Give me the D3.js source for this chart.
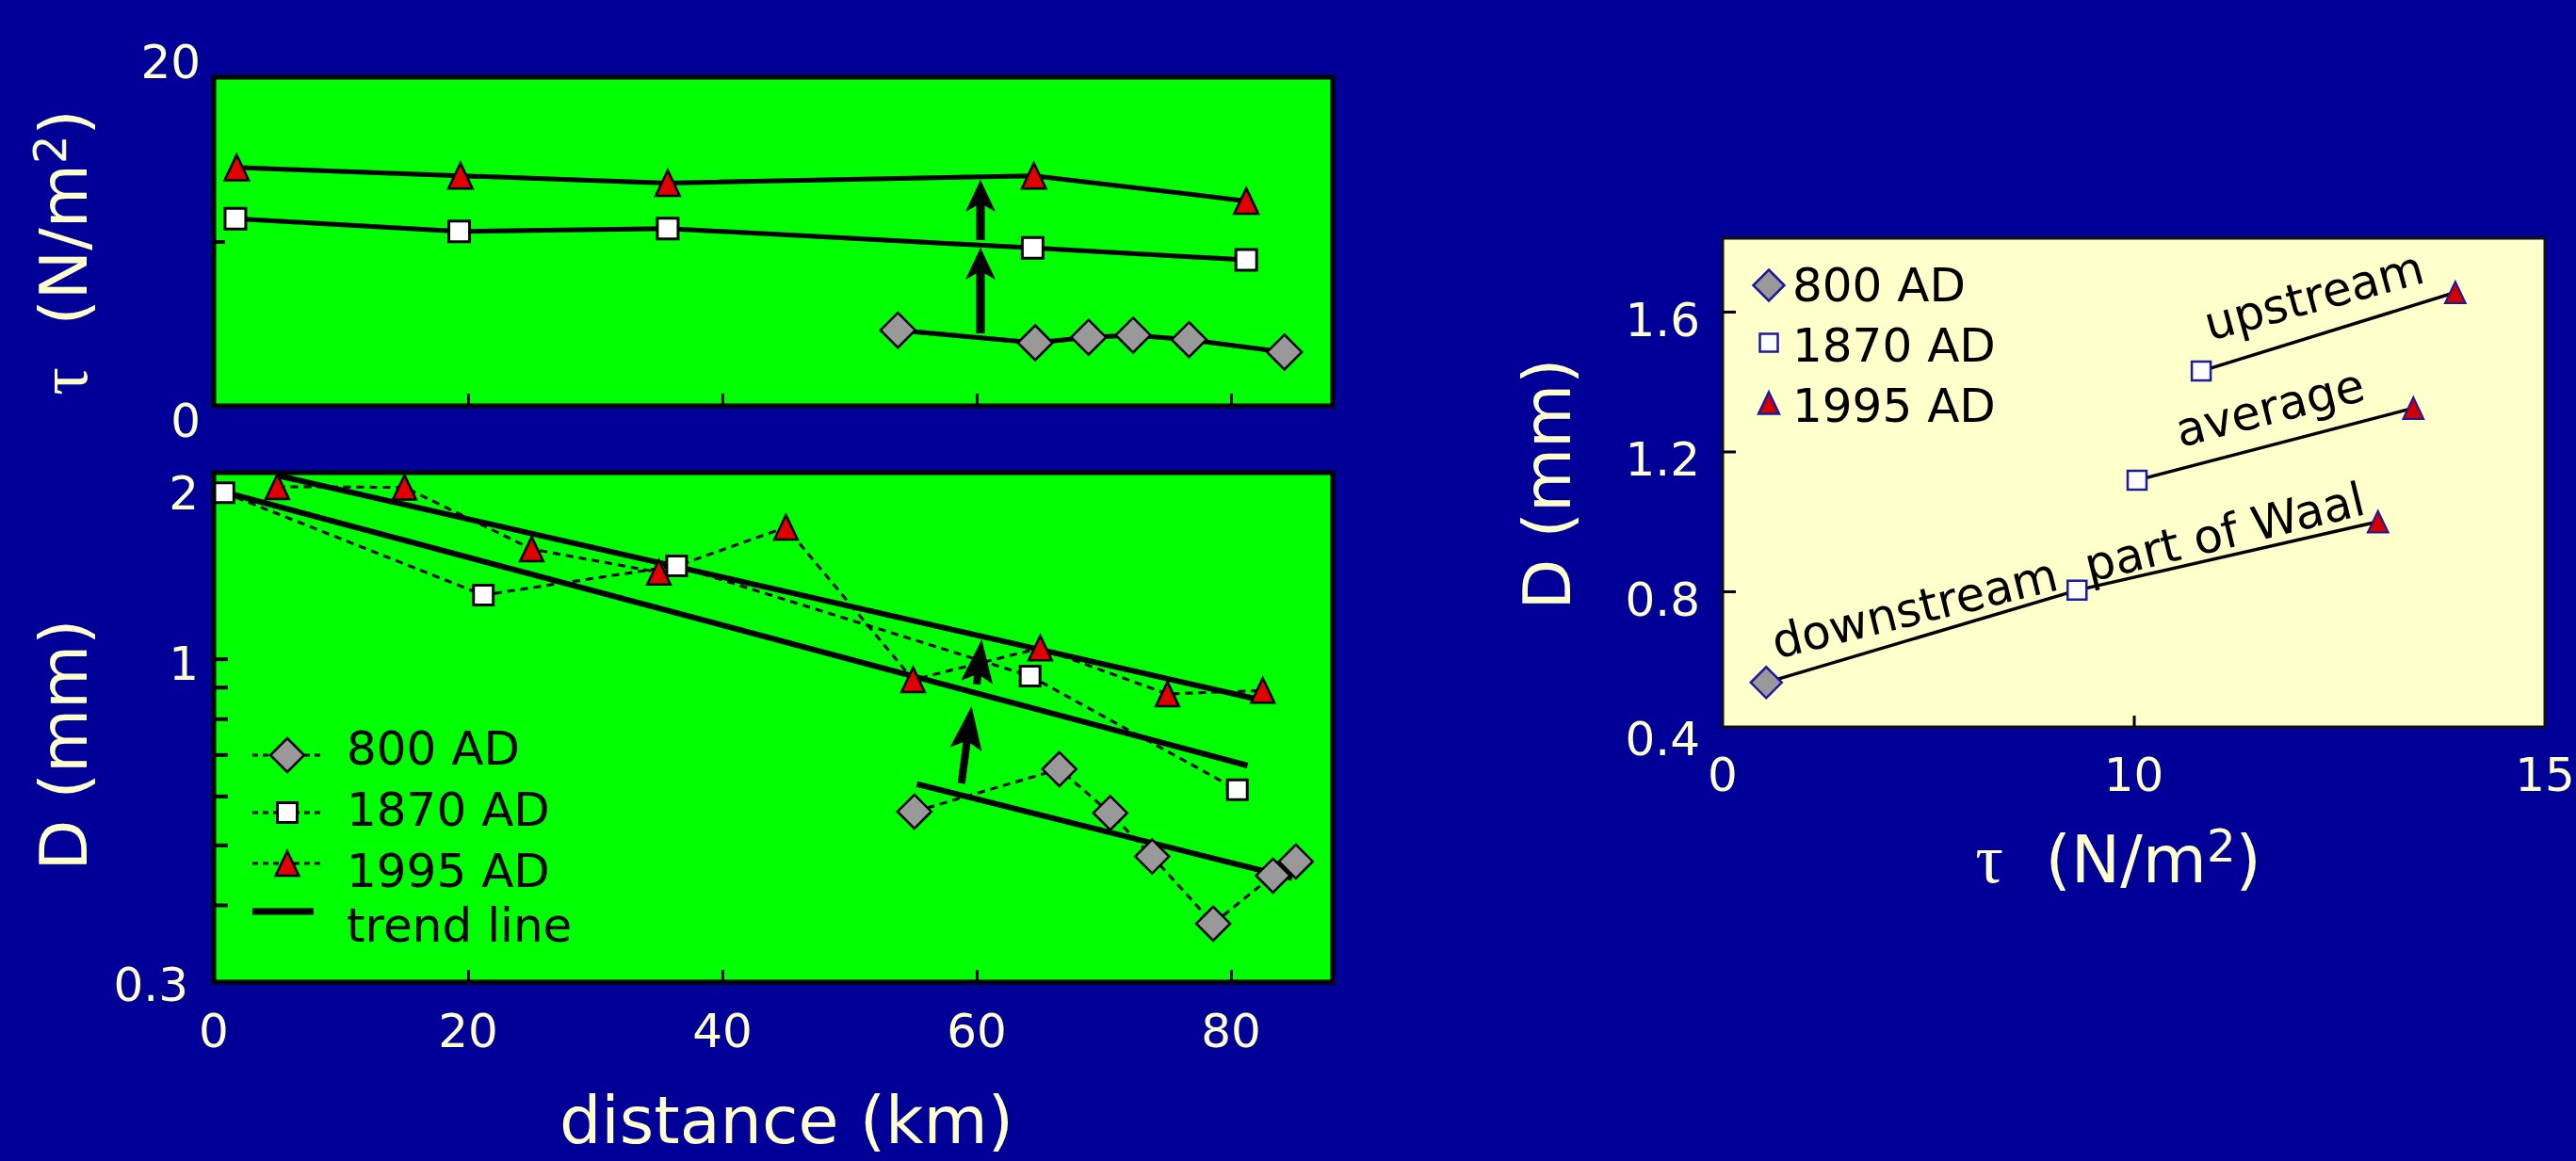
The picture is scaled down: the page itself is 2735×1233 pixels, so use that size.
<!DOCTYPE html>
<html>
<head>
<meta charset="utf-8">
<script src="https://cdn.jsdelivr.net/npm/d3@7"></script>
<style>
  body { margin: 0; background: #000099; }
  svg { display: block; }
</style>
</head>
<body>
<script>
// ---- data ----
var years = ["800 AD", "1870 AD", "1995 AD"];

// top panel: bed shear stress tau (N/m2) against distance (km)
var tauKm800 = [53.8, 64.6, 68.8, 72.3, 76.7, 84.2];
var tau800 = [4.6, 3.84, 4.17, 4.3, 4.03, 3.27];
var tauKm1870 = [1.7, 19.3, 35.7, 64.4, 81.2];
var tau1870 = [11.39, 10.62, 10.79, 9.61, 8.88];
var tauKm1995 = [1.8, 19.4, 35.7, 64.5, 81.2];
var tau1995 = [14.5, 14.0, 13.56, 14.0, 12.47];

// bottom panel: grain size D (mm) against distance (km)
var dKm800 = [55.1, 66.5, 70.5, 73.8, 78.6, 83.3, 85.1];
var d800 = [0.566, 0.663, 0.563, 0.479, 0.373, 0.446, 0.470];
var dKm1870 = [0.8, 21.2, 36.4, 64.2, 80.5];
var d1870 = [1.857, 1.268, 1.414, 0.938, 0.614];
var dKm1995 = [5, 15, 25, 35, 45, 55, 65, 75, 82.5];
var d1995 = [1.898, 1.894, 1.505, 1.380, 1.632, 0.925, 1.041, 0.877, 0.889];

// trend lines: start and end
var trendKm800 = [55.3, 84.8], trendD800 = [0.627, 0.442];
var trendKm1870 = [0.96, 81.3], trendD1870 = [1.857, 0.672];
var trendKm1995 = [5.0, 82.2], trendD1995 = [1.979, 0.859];

// arrows: [km0, v0, km1, v1]
var arrowsTau = [[60.3, 4.41, 60.3, 9.63], [60.3, 10.09, 60.3, 13.75]];
var arrowsD = [[58.8, 0.629, 59.6, 0.838], [60.0, 0.909, 60.4, 1.075]];

// right panel: D against tau, per reach
var reaches = ["downstream  part of Waal", "average", "upstream"];
var rTau800 = [5.53], rD800 = [0.539];
var rTau1870 = [9.31, 10.04, 10.82], rD1870 = [0.803, 1.118, 1.430];
var rTau1995 = [12.97, 13.40, 13.91], rD1995 = [0.999, 1.324, 1.655];

// ticks
var kmTicks = [0, 20, 40, 60, 80];
var tauTickLabels = ["0", "20"];
var dTickLabels = ["0.3", "1", "2"];
var rYTicks = [0.4, 0.8, 1.2, 1.6];
var rXTicks = [5, 10, 15];
var rXTickLabels = ["0", "10", "15"];

// ---- drawing ----
var cream = "#FFFFCC";
var font = "DejaVu Sans, Verdana, sans-serif";

var svg = d3.select("body").append("svg")
  .attr("width", 2735).attr("height", 1233)
  .style("background", "#000099");

var x = d3.scaleLinear().domain([0, 88]).range([227, 1415]);
var yTau = d3.scaleLinear().domain([0, 20]).range([431, 82]);
var yD = d3.scaleLog().domain([0.3, 2]).range([1043, 502]);
var xR = d3.scaleLinear().domain([5, 15]).range([1829, 2702]);
var yR = d3.scaleLinear().domain([0.412, 1.81]).range([772, 253]);

function zip(a, b) {
  return a.map(function (v, i) { return [v, b[i]]; });
}

function marker(g, kind, cx, cy, s, fill, stroke, sw) {
  var h = s / 2, d;
  if (kind == "diamond") {
    d = "M" + cx + "," + (cy - h) + "L" + (cx + h) + "," + cy + "L" + cx + "," + (cy + h) + "L" + (cx - h) + "," + cy + "Z";
  } else if (kind == "triangle") {
    d = "M" + cx + "," + (cy - h) + "L" + (cx + h * 0.95) + "," + (cy + h) + "L" + (cx - h * 0.95) + "," + (cy + h) + "Z";
  } else {
    d = "M" + (cx - h) + "," + (cy - h) + "h" + s + "v" + s + "h" + (-s) + "Z";
  }
  g.append("path").attr("d", d)
    .attr("fill", fill).attr("stroke", stroke).attr("stroke-width", sw)
    .attr("stroke-linejoin", "miter");
}

function arrow(g, x1, y1, x2, y2, len, half, shaft) {
  var dx = x2 - x1, dy = y2 - y1, n = Math.sqrt(dx * dx + dy * dy);
  var ux = dx / n, uy = dy / n, px = -uy, py = ux;
  var bx = x2 - ux * len, by = y2 - uy * len;
  var nx = x2 - ux * (len - 9), ny = y2 - uy * (len - 9);
  g.append("line")
    .attr("x1", x1).attr("y1", y1).attr("x2", nx).attr("y2", ny)
    .attr("stroke", "#000").attr("stroke-width", shaft);
  g.append("path")
    .attr("d", "M" + x2 + "," + y2 + "L" + (bx + px * half) + "," + (by + py * half) +
      "L" + nx + "," + ny + "L" + (bx - px * half) + "," + (by - py * half) + "Z")
    .attr("fill", "#000");
}

function styleTicks(g, w) {
  g.select(".domain").remove();
  g.attr("color", "#000");
  g.selectAll(".tick line").attr("stroke-width", w);
}

// "tau  (N/m2)" with a serif tau and a raised 2
function tauLabel(t) {
  t.append("tspan").style("font-family", "Liberation Serif, serif").style("font-size", "74px").text("\u03C4");
  t.append("tspan").text("\u00A0\u00A0(N/m");
  t.append("tspan").attr("dy", -22).style("font-size", "48px").text("2");
  t.append("tspan").attr("dy", 22).text(")");
}

var line = d3.line();

// ---------- top panel ----------
var tp = svg.append("g");
tp.append("rect").attr("x", 227).attr("y", 82).attr("width", 1188).attr("height", 349).attr("fill", "#00FF00");

tp.append("g").attr("transform", "translate(0,431)")
  .call(d3.axisBottom(x).tickValues([20, 40, 60, 80]).tickSize(-13).tickFormat(""))
  .call(styleTicks, 3);
tp.append("g").attr("transform", "translate(227,0)")
  .call(d3.axisLeft(yTau).tickValues([10]).tickSize(-12).tickFormat(""))
  .call(styleTicks, 4);

[[tauKm800, tau800], [tauKm1870, tau1870], [tauKm1995, tau1995]].forEach(function (s) {
  tp.append("path")
    .attr("d", line(zip(s[0], s[1]).map(function (p) { return [x(p[0]), yTau(p[1])]; })))
    .attr("fill", "none").attr("stroke", "#000").attr("stroke-width", 5);
});
arrowsTau.forEach(function (a) {
  arrow(tp, x(a[0]), yTau(a[1]), x(a[2]), yTau(a[3]), 34, 16, 9);
});
zip(tauKm800, tau800).forEach(function (p) { marker(tp, "diamond", x(p[0]), yTau(p[1]), 37, "#999999", "#000", 2.5); });
zip(tauKm1870, tau1870).forEach(function (p) { marker(tp, "square", x(p[0]), yTau(p[1]), 22, "#FFFFFF", "#000", 3); });
zip(tauKm1995, tau1995).forEach(function (p) { marker(tp, "triangle", x(p[0]), yTau(p[1]), 27, "#E00000", "#000", 2.5); });

tp.append("rect").attr("x", 227).attr("y", 82).attr("width", 1188).attr("height", 349)
  .attr("fill", "none").attr("stroke", "#000").attr("stroke-width", 5);

tp.selectAll("text.tick").data([0, 20]).enter().append("text")
  .attr("x", 213).attr("y", function (d) { return d == 20 ? yTau(d) + 1 : yTau(d) + 33; })
  .attr("text-anchor", "end").attr("fill", cream)
  .style("font", "50px " + font)
  .text(function (d, i) { return tauTickLabels[i]; });

tp.append("text")
  .attr("transform", "translate(92,268) rotate(-90)")
  .attr("text-anchor", "middle").attr("fill", cream)
  .style("font", "70px " + font)
  .call(tauLabel);

// ---------- bottom panel ----------
var bp = svg.append("g");
bp.append("rect").attr("x", 227).attr("y", 502).attr("width", 1188).attr("height", 541).attr("fill", "#00FF00");

bp.append("g").attr("transform", "translate(0,1043)")
  .call(d3.axisBottom(x).tickValues([20, 40, 60, 80]).tickSize(-13).tickFormat(""))
  .call(styleTicks, 3);
bp.append("g").attr("transform", "translate(227,0)")
  .call(d3.axisLeft(yD).tickValues([0.4, 0.5, 0.6, 0.7, 0.8, 0.9, 1]).tickSize(-15).tickFormat(""))
  .call(styleTicks, 4);

var dotted = [[dKm800, d800], [dKm1870, d1870], [dKm1995, d1995]];
dotted.forEach(function (s) {
  bp.append("path")
    .attr("d", line(zip(s[0], s[1]).map(function (p) { return [x(p[0]), yD(p[1])]; })))
    .attr("fill", "none").attr("stroke", "#000").attr("stroke-width", 3)
    .attr("stroke-dasharray", "8,6");
});
[[trendKm800, trendD800], [trendKm1870, trendD1870], [trendKm1995, trendD1995]].forEach(function (s) {
  bp.append("path")
    .attr("d", line(zip(s[0], s[1]).map(function (p) { return [x(p[0]), yD(p[1])]; })))
    .attr("fill", "none").attr("stroke", "#000").attr("stroke-width", 6);
});
arrowsD.forEach(function (a) {
  arrow(bp, x(a[0]), yD(a[1]), x(a[2]), yD(a[3]), 46, 17, 8);
});
zip(dKm800, d800).forEach(function (p) { marker(bp, "diamond", x(p[0]), yD(p[1]), 36, "#999999", "#000", 2.5); });
zip(dKm1870, d1870).forEach(function (p) { marker(bp, "square", x(p[0]), yD(p[1]), 21, "#FFFFFF", "#000", 3); });
zip(dKm1995, d1995).forEach(function (p) { marker(bp, "triangle", x(p[0]), yD(p[1]), 26, "#E00000", "#000", 2.5); });

// legend
var legY = [802, 863, 917];
var legBase = [812, 877, 942, 1000];
var kinds = ["diamond", "square", "triangle"];
var fills = ["#999999", "#FFFFFF", "#E00000"];
var sizes = [36, 21, 26];
kinds.forEach(function (k, i) {
  bp.append("line").attr("x1", 268).attr("x2", 340).attr("y1", legY[i]).attr("y2", legY[i])
    .attr("stroke", "#000").attr("stroke-width", 3).attr("stroke-dasharray", "6,5");
  marker(bp, k, 305, legY[i], sizes[i], fills[i], "#000", k == "square" ? 3 : 2.5);
});
bp.append("line").attr("x1", 268).attr("x2", 333).attr("y1", 968).attr("y2", 968)
  .attr("stroke", "#000").attr("stroke-width", 7);
years.concat(["trend line"]).forEach(function (t, i) {
  bp.append("text").attr("x", 368).attr("y", legBase[i])
    .attr("fill", "#000").style("font", "50px " + font).text(t);
});

bp.append("rect").attr("x", 227).attr("y", 502).attr("width", 1188).attr("height", 541)
  .attr("fill", "none").attr("stroke", "#000").attr("stroke-width", 5);

bp.selectAll("text.ytick").data([0.3, 1, 2]).enter().append("text")
  .attr("x", function (d) { return d == 0.3 ? 200 : 211; })
  .attr("y", function (d) { return d == 2 ? yD(d) + 39 : d == 1 ? yD(d) + 22 : yD(d) + 20; })
  .attr("text-anchor", "end").attr("fill", cream)
  .style("font", "50px " + font)
  .text(function (d, i) { return dTickLabels[i]; });

bp.selectAll("text.xtick").data(kmTicks).enter().append("text")
  .attr("x", function (d) { return x(d); }).attr("y", 1112)
  .attr("text-anchor", "middle").attr("fill", cream)
  .style("font", "50px " + font)
  .text(function (d) { return d; });

bp.append("text")
  .attr("transform", "translate(92,791) rotate(-90)")
  .attr("text-anchor", "middle").attr("fill", cream)
  .style("font", "70px " + font)
  .text("D (mm)");

bp.append("text")
  .attr("x", 835).attr("y", 1214)
  .attr("text-anchor", "middle").attr("fill", cream)
  .style("font", "70px " + font)
  .text("distance (km)");

// ---------- right panel ----------
var rp = svg.append("g");
rp.append("rect").attr("x", 1829).attr("y", 253).attr("width", 873).attr("height", 519)
  .attr("fill", "#FFFFCC").attr("stroke", "#111").attr("stroke-width", 3);

rp.append("g").attr("transform", "translate(1829,0)")
  .call(d3.axisLeft(yR).tickValues([0.8, 1.2, 1.6]).tickSize(-14).tickFormat(""))
  .call(styleTicks, 3);
rp.append("g").attr("transform", "translate(0,772)")
  .call(d3.axisBottom(xR).tickValues([10]).tickSize(-12).tickFormat(""))
  .call(styleTicks, 3);

var reachLines = [
  [[rTau800[0], rD800[0]], [rTau1870[0], rD1870[0]], [rTau1995[0], rD1995[0]]],
  [[rTau1870[1], rD1870[1]], [rTau1995[1], rD1995[1]]],
  [[rTau1870[2], rD1870[2]], [rTau1995[2], rD1995[2]]]
];
reachLines.forEach(function (pts) {
  rp.append("path")
    .attr("d", line(pts.map(function (p) { return [xR(p[0]), yR(p[1])]; })))
    .attr("fill", "none").attr("stroke", "#000").attr("stroke-width", 3.5);
});

// reach labels, placed along their lines
var labelAt = [
  { px: xR(rTau800[0]) + 11, py: yR(rD800[0]) - 25, ang: -13.8 },
  { px: xR(rTau1870[1]) + 46, py: yR(rD1870[1]) - 35, ang: -14.3 },
  { px: xR(rTau1870[2]) + 9, py: yR(rD1870[2]) - 32, ang: -15.2 }
];
reaches.forEach(function (t, i) {
  rp.append("text")
    .attr("transform", "translate(" + labelAt[i].px + "," + labelAt[i].py + ") rotate(" + labelAt[i].ang + ")")
    .attr("fill", "#000").style("font", "50px " + font)
    .text(t.replace(/ /g, "\u00A0"));
});

var navy = "#1a1a9a";
zip(rTau800, rD800).forEach(function (p) { marker(rp, "diamond", xR(p[0]), yR(p[1]), 33, "#999999", navy, 2.5); });
zip(rTau1870, rD1870).forEach(function (p) { marker(rp, "square", xR(p[0]), yR(p[1]), 20, "#FFFFFF", navy, 2.5); });
zip(rTau1995, rD1995).forEach(function (p) { marker(rp, "triangle", xR(p[0]), yR(p[1]), 23, "#D00000", navy, 2); });

// right legend
var rLegY = [303, 364, 428];
var rLegBase = [320, 384, 448];
var rSizes = [33, 19, 23];
kinds.forEach(function (k, i) {
  marker(rp, k, 1878, rLegY[i], rSizes[i], k == "triangle" ? "#D00000" : fills[i], navy, 2.5);
  rp.append("text").attr("x", 1903).attr("y", rLegBase[i])
    .attr("fill", "#000").style("font", "50px " + font).text(years[i]);
});

rp.selectAll("text.ry").data(rYTicks).enter().append("text")
  .attr("x", 1805).attr("y", function (d) { return yR(d) + 26; })
  .attr("text-anchor", "end").attr("fill", cream)
  .style("font", "50px " + font)
  .text(function (d) { return d.toFixed(1); });

rp.selectAll("text.rx").data(rXTicks).enter().append("text")
  .attr("x", function (d) { return xR(d); }).attr("y", 840)
  .attr("text-anchor", "middle").attr("fill", cream)
  .style("font", "50px " + font)
  .text(function (d, i) { return rXTickLabels[i]; });

rp.append("text")
  .attr("transform", "translate(1667,514) rotate(-90)")
  .attr("text-anchor", "middle").attr("fill", cream)
  .style("font", "70px " + font)
  .text("D (mm)");

rp.append("text")
  .attr("x", 2249).attr("y", 937)
  .attr("text-anchor", "middle").attr("fill", cream)
  .style("font", "70px " + font)
  .call(tauLabel);
</script>
</body>
</html>
